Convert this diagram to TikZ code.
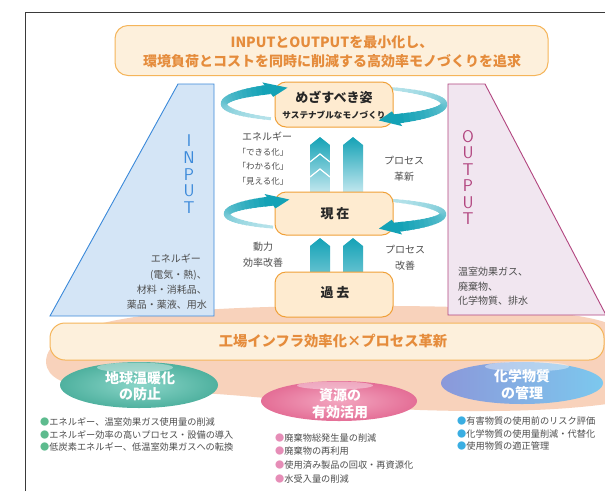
\documentclass[tikz,border=0pt]{standalone}
\usepackage{fontspec}
\setmainfont{Noto Sans CJK JP}
\usetikzlibrary{shapes.geometric}
\definecolor{frameC}{HTML}{3A3A3A}
\definecolor{creamF}{HTML}{FDF0DC}
\definecolor{orangeB}{HTML}{F5B55A}
\definecolor{orangeT}{HTML}{E58C3C}
\definecolor{boxF}{HTML}{FEEBD0}
\definecolor{boxB}{HTML}{F0A038}
\definecolor{inF}{HTML}{D4E5F6}
\definecolor{inB}{HTML}{3C8ADA}
\definecolor{outF}{HTML}{F1E6F0}
\definecolor{outB}{HTML}{B2457F}
\definecolor{salmonC}{HTML}{F8D2BB}
\definecolor{tealD}{HTML}{14A2B6}
\definecolor{tealL}{HTML}{C4E8EF}
\definecolor{grayT}{HTML}{4D4D4D}
\definecolor{bulG}{HTML}{5DBB8E}
\definecolor{bulP}{HTML}{E68DB7}
\definecolor{bulB}{HTML}{3AAEE2}
\definecolor{grnIn}{HTML}{8AD5C8}
\definecolor{grnOut}{HTML}{4FB19F}
\definecolor{pnkIn}{HTML}{F3A6C0}
\definecolor{pnkOut}{HTML}{E46E96}
\definecolor{bluL}{HTML}{8B98DA}
\definecolor{bluR}{HTML}{7CC8EE}

% ribbon body: cx cy rx ry a-start a-end
\newcommand{\ribbonarc}[6]{%
  \foreach \k in {0,...,27}{%
    \pgfmathsetmacro{\aa}{#5+(#6-#5)*\k/28}%
    \pgfmathsetmacro{\ab}{#5+(#6-#5)*(\k+1.4)/28}%
    \pgfmathsetmacro{\pc}{8+92*(\k/27)^1.2}%
    \pgfmathsetmacro{\lw}{3+6.5*\k/27}%
    \draw[line width=\lw pt, color=tealD!\pc!tealL]
      plot[domain=\aa:\ab, samples=5, variable=\t] ({#1+#3*cos(\t)},{#2+#4*sin(\t)});
  }%
}
% ribbon head: cx cy rx ry a-base a-tip halfwidth
\newcommand{\ribbonhead}[7]{%
  \fill[tealD] ({#1+(#3+#7)*cos(#5)},{#2+(#4+#7)*sin(#5)})
    -- ({#1+#3*cos(#6)},{#2+#4*sin(#6)})
    -- ({#1+(#3-#7)*cos(#5)},{#2+(#4-#7)*sin(#5)}) -- cycle;
}
% up arrow: xl xr ytip ybot topcolor bottomcolor
\newcommand{\uparrowbody}[6]{%
  \shade[top color=#5, bottom color=#6] (#1,#4) -- (#1,#3+8) -- ({(#1+#2)/2},#3) -- (#2,#3+8) -- (#2,#4) -- cycle;
}

\begin{document}
\begin{tikzpicture}[x=1pt,y=-1pt,
  gt/.style={text=grayT, inner sep=0pt, font=\fontsize{10}{12}\selectfont},
  st/.style={text=grayT, inner sep=0pt, font=\fontsize{8.5}{10}\selectfont},
  bt/.style={text=grayT, inner sep=0pt, anchor=west, font=\fontsize{9.2}{11}\selectfont},
  boxlabel/.style={text=black!85, inner sep=0pt, font=\fontsize{13}{15}\selectfont\bfseries},
  centerbox/.style={draw=boxB, fill=boxF, line width=1pt, rounded corners=11pt, minimum width=118pt, inner sep=0pt},
  bubbletext/.style={text=white, inner sep=0pt, font=\fontsize{14}{16}\selectfont\bfseries},
  inletter/.style={text=inB, inner sep=0pt, font=\sffamily\fontsize{17}{17}\selectfont},
  outletter/.style={text=outB, inner sep=0pt, font=\sffamily\fontsize{17}{17}\selectfont},
  bubble/.style={ellipse, inner sep=0pt}
]
\useasboundingbox (0,0) rectangle (605,491);
\fill[white] (0,0) rectangle (605,491);

% frame
\draw[frameC, line width=0.8pt] (25,491) -- (25,12) -- (605,12);

% salmon blob
\fill[salmonC] (46,362) .. controls (46,322) and (150,307) .. (330,306)
  .. controls (480,305) and (600,310) .. (620,330) -- (620,402)
  .. controls (560,412) and (480,412) .. (420,410)
  .. controls (330,406) and (260,396) .. (200,393)
  .. controls (120,389) and (48,395) .. (46,362) -- cycle;

% top box
\node[draw=orangeB, fill=creamF, line width=1pt, rounded corners=13pt, minimum width=433pt, minimum height=50pt] (goal) at (331.5,50.5) {};
\node[text=orangeT, inner sep=0pt, font=\fontsize{14}{16}\selectfont\bfseries] (goal1) at (332,42) {INPUTとOUTPUTを最小化し、};
\node[text=orangeT, inner sep=0pt, font=\fontsize{14}{16}\selectfont\bfseries] (goal2) at (332,61) {環境負荷とコストを同時に削減する高効率モノづくりを追求};

% INPUT trapezoid
\filldraw[fill=inF, draw=inB, line width=0.9pt] (50,316) -- (178,84) -- (214,84) -- (214,316) -- cycle;
\node[inletter] (inI) at (189,141) {I};
\node[inletter] (inN) at (189,158) {N};
\node[inletter] (inP) at (189,175) {P};
\node[inletter] (inU) at (189,191) {U};
\node[inletter] (inT) at (189,208) {T};
\node[gt, anchor=east] (in1) at (201,259) {エネルギー};
\node[gt, anchor=east] (in2) at (207,275) {(電気・熱)、};
\node[gt, anchor=east] (in3) at (207,290) {材料・消耗品、};
\node[gt, anchor=east] (in4) at (207,305) {薬品・薬液、用水};

% OUTPUT trapezoid
\filldraw[fill=outF, draw=outB, line width=0.9pt] (448,315) -- (448,84) -- (485,84) -- (606,315) -- cycle;
\node[outletter] (outO) at (468,137) {O};
\node[outletter] (outU) at (468,153) {U};
\node[outletter] (outT) at (468,170) {T};
\node[outletter] (outP) at (468,186) {P};
\node[outletter] (outU2) at (468,203) {U};
\node[outletter] (outT2) at (468,219) {T};
\node[gt, anchor=west] (out1) at (458,272) {温室効果ガス、};
\node[gt, anchor=west] (out2) at (458,287) {廃棄物、};
\node[gt, anchor=west] (out3) at (458,301) {化学物質、排水};

% ribbons (bodies)
\ribbonarc{334}{104}{110}{18}{125}{233}
\ribbonarc{334}{104}{110}{18}{300}{415}
\ribbonarc{335}{214}{108}{16}{125}{233}
\ribbonarc{335}{214}{108}{16}{300}{415}

% up arrows
\uparrowbody{310}{330}{137}{193}{tealD}{tealL}
\uparrowbody{343}{363}{137}{193}{tealD}{tealL}
\draw[white, line width=1.2pt] (310,162) -- (320,154) -- (330,162);
\draw[white, line width=1.2pt] (310,177) -- (320,169) -- (330,177);
\uparrowbody{310}{330}{238}{273}{tealD}{tealD!55!tealL}
\uparrowbody{343}{363}{238}{273}{tealD}{tealD!55!tealL}

% center boxes
\node[centerbox, minimum height=45pt] (future) at (334,104.5) {};
\node[centerbox, minimum height=43pt] (now) at (334,213.5) {};
\node[centerbox, minimum height=45pt] (past) at (334,294.5) {};

% ribbon heads
\ribbonhead{334}{104}{110}{18}{233}{245}{9}
\ribbonhead{334}{104}{110}{18}{415}{426}{9}
\ribbonhead{335}{214}{108}{16}{233}{245}{9}
\ribbonhead{335}{214}{108}{16}{415}{426}{9}

% box texts
\node[boxlabel] (futureT) at (334,97) {めざすべき姿};
\node[text=black!85, inner sep=0pt, font=\fontsize{8.6}{10}\selectfont\bfseries] (futureS) at (334,115) {サステナブルなモノづくり};
\node[boxlabel] (nowT) at (335,214) {現\hspace{3pt}在};
\node[boxlabel] (pastT) at (335,293) {過\hspace{3pt}去};

% middle labels
\node[gt] (m1) at (267,137) {エネルギー};
\node[st] (m2) at (263,152) {「できる化」};
\node[st] (m3) at (263,166) {「わかる化」};
\node[st] (m4) at (263,181) {「見える化」};
\node[gt] (m5) at (404,161) {プロセス};
\node[gt] (m6) at (404,177) {革新};
\node[gt] (m7) at (263,247) {動力};
\node[gt] (m8) at (263,263) {効率改善};
\node[gt] (m9) at (405,250) {プロセス};
\node[gt] (m10) at (405,266) {改善};

% bar
\node[draw=orangeB, fill=creamF, line width=1pt, rounded corners=15pt, minimum width=554pt, minimum height=37pt] (bar) at (327,341.5) {};
\node[text=orangeT, inner sep=0pt, font=\fontsize{14.3}{16}\selectfont\bfseries] (barT) at (333,341) {工場インフラ効率化×プロセス革新};

% bubbles
\node[bubble, minimum width=158pt, minimum height=46pt, inner color=grnIn, outer color=grnOut] (green) at (139,385) {};
\fill[white, opacity=0.4] (135,367.5) ellipse [x radius=38, y radius=5];
\node[bubbletext] (green1) at (140,378) {地球温暖化};
\node[bubbletext] (green2) at (140,394) {の防止};

\node[bubble, minimum width=156pt, minimum height=40pt, inner color=pnkIn, outer color=pnkOut] (pink) at (339,401) {};
\fill[white, opacity=0.4] (335,385.5) ellipse [x radius=38, y radius=4];
\node[bubbletext] (pink1) at (340,395) {資源の};
\node[bubbletext] (pink2) at (340,412) {有効活用};

\node[bubble, minimum width=162pt, minimum height=42pt, left color=bluL, right color=bluR] (blue) at (522,383) {};
\fill[white, opacity=0.4] (527,366.5) ellipse [x radius=42, y radius=5];
\node[bubbletext] (blue1) at (522,376) {化学物質};
\node[bubbletext] (blue2) at (522,393) {の管理};

% bullet lists
\node[bt] (g1) at (40,422) {{\color{bulG}●}エネルギー、温室効果ガス使用量の削減};
\node[bt] (g2) at (40,434.5) {{\color{bulG}●}エネルギー効率の高いプロセス・設備の導入};
\node[bt] (g3) at (40,447) {{\color{bulG}●}低炭素エネルギー、低温室効果ガスへの転換};

\node[bt] (p1) at (275,438) {{\color{bulP}●}廃棄物総発生量の削減};
\node[bt] (p2) at (275,451.5) {{\color{bulP}●}廃棄物の再利用};
\node[bt] (p3) at (275,465) {{\color{bulP}●}使用済み製品の回収・再資源化};
\node[bt] (p4) at (275,478.5) {{\color{bulP}●}水受入量の削減};

\node[bt] (b1) at (457,421) {{\color{bulB}●}有害物質の使用前のリスク評価};
\node[bt] (b2) at (457,433.5) {{\color{bulB}●}化学物質の使用量削減・代替化};
\node[bt] (b3) at (457,446) {{\color{bulB}●}使用物質の適正管理};
\end{tikzpicture}
\end{document}
